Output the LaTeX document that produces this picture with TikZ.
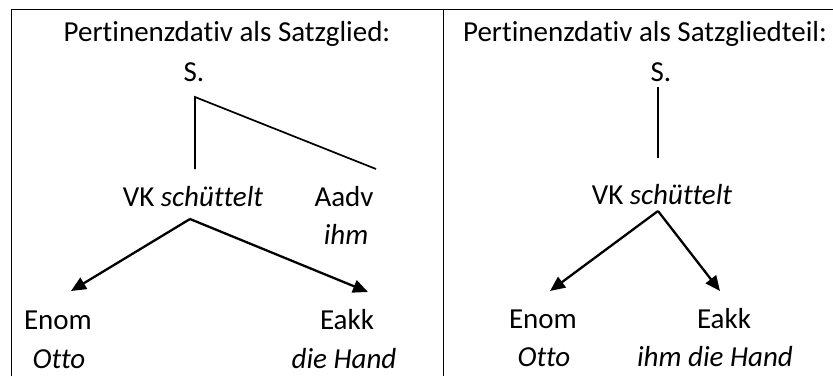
\documentclass[tikz,border=0pt]{standalone}
\usepackage{fontspec}
\setmainfont[Ligatures=NoCommon]{Carlito}
\usetikzlibrary{arrows.meta}
\begin{document}
\begin{tikzpicture}[x=1pt,y=-1pt,
  lbl/.style={anchor=base,inner sep=0pt,font=\fontsize{29}{34}\selectfont},
  frame/.style={line width=1.3pt},
  treeline/.style={line width=1.7pt},
  arr/.style={line width=2.3pt,-{Triangle[length=15pt,width=13pt]}}]
\useasboundingbox (0,0) rectangle (833,376);
% frame
\draw[frame] (11.5,376) -- (11.5,9.5) -- (833,9.5);
\draw[frame] (443.5,9.5) -- (443.5,376);
% left panel
\node[lbl] (t1) at (227,41) {Pertinenzdativ als Satzglied:};
\node[lbl] (s1) at (194,81) {S.};
\coordinate (j1) at (195,97);
\coordinate (v1) at (195,169);
\coordinate (a1) at (376,169);
\draw[treeline] (v1) -- (j1) -- (a1);
\node[lbl] (vk1) at (193,206) {VK \textit{schüttelt}};
\node[lbl] (aadv) at (344,206) {Aadv};
\node[lbl] (ihm) at (346,244) {\textit{ihm}};
\coordinate (r1) at (190,219);
\coordinate (l1) at (71,291);
\coordinate (e1) at (368,292);
\draw[arr] (r1) -- (l1);
\draw[arr] (r1) -- (e1);
\node[lbl] (enom1) at (58,329) {Enom};
\node[lbl] (eakk1) at (347,329) {Eakk};
\node[lbl] (otto1) at (59,368) {\textit{Otto}};
\node[lbl] (hand1) at (344,368) {\textit{die Hand}};
% right panel
\node[lbl] (t2) at (645,41) {Pertinenzdativ als Satzgliedteil:};
\node[lbl] (s2) at (661,81) {S.};
\coordinate (j2) at (658,87);
\coordinate (v2) at (658,158);
\draw[treeline] (j2) -- (v2);
\node[lbl] (vk2) at (662,204) {VK \textit{schüttelt}};
\coordinate (r2) at (658,211);
\coordinate (l2) at (550,291);
\coordinate (e2) at (720,291);
\draw[arr] (r2) -- (l2);
\draw[arr] (r2) -- (e2);
\node[lbl] (enom2) at (543,328) {Enom};
\node[lbl] (eakk2) at (724,328) {Eakk};
\node[lbl] (otto2) at (544,366) {\textit{Otto}};
\node[lbl] (hand2) at (715,366) {\textit{ihm die Hand}};
\end{tikzpicture}
\end{document}
